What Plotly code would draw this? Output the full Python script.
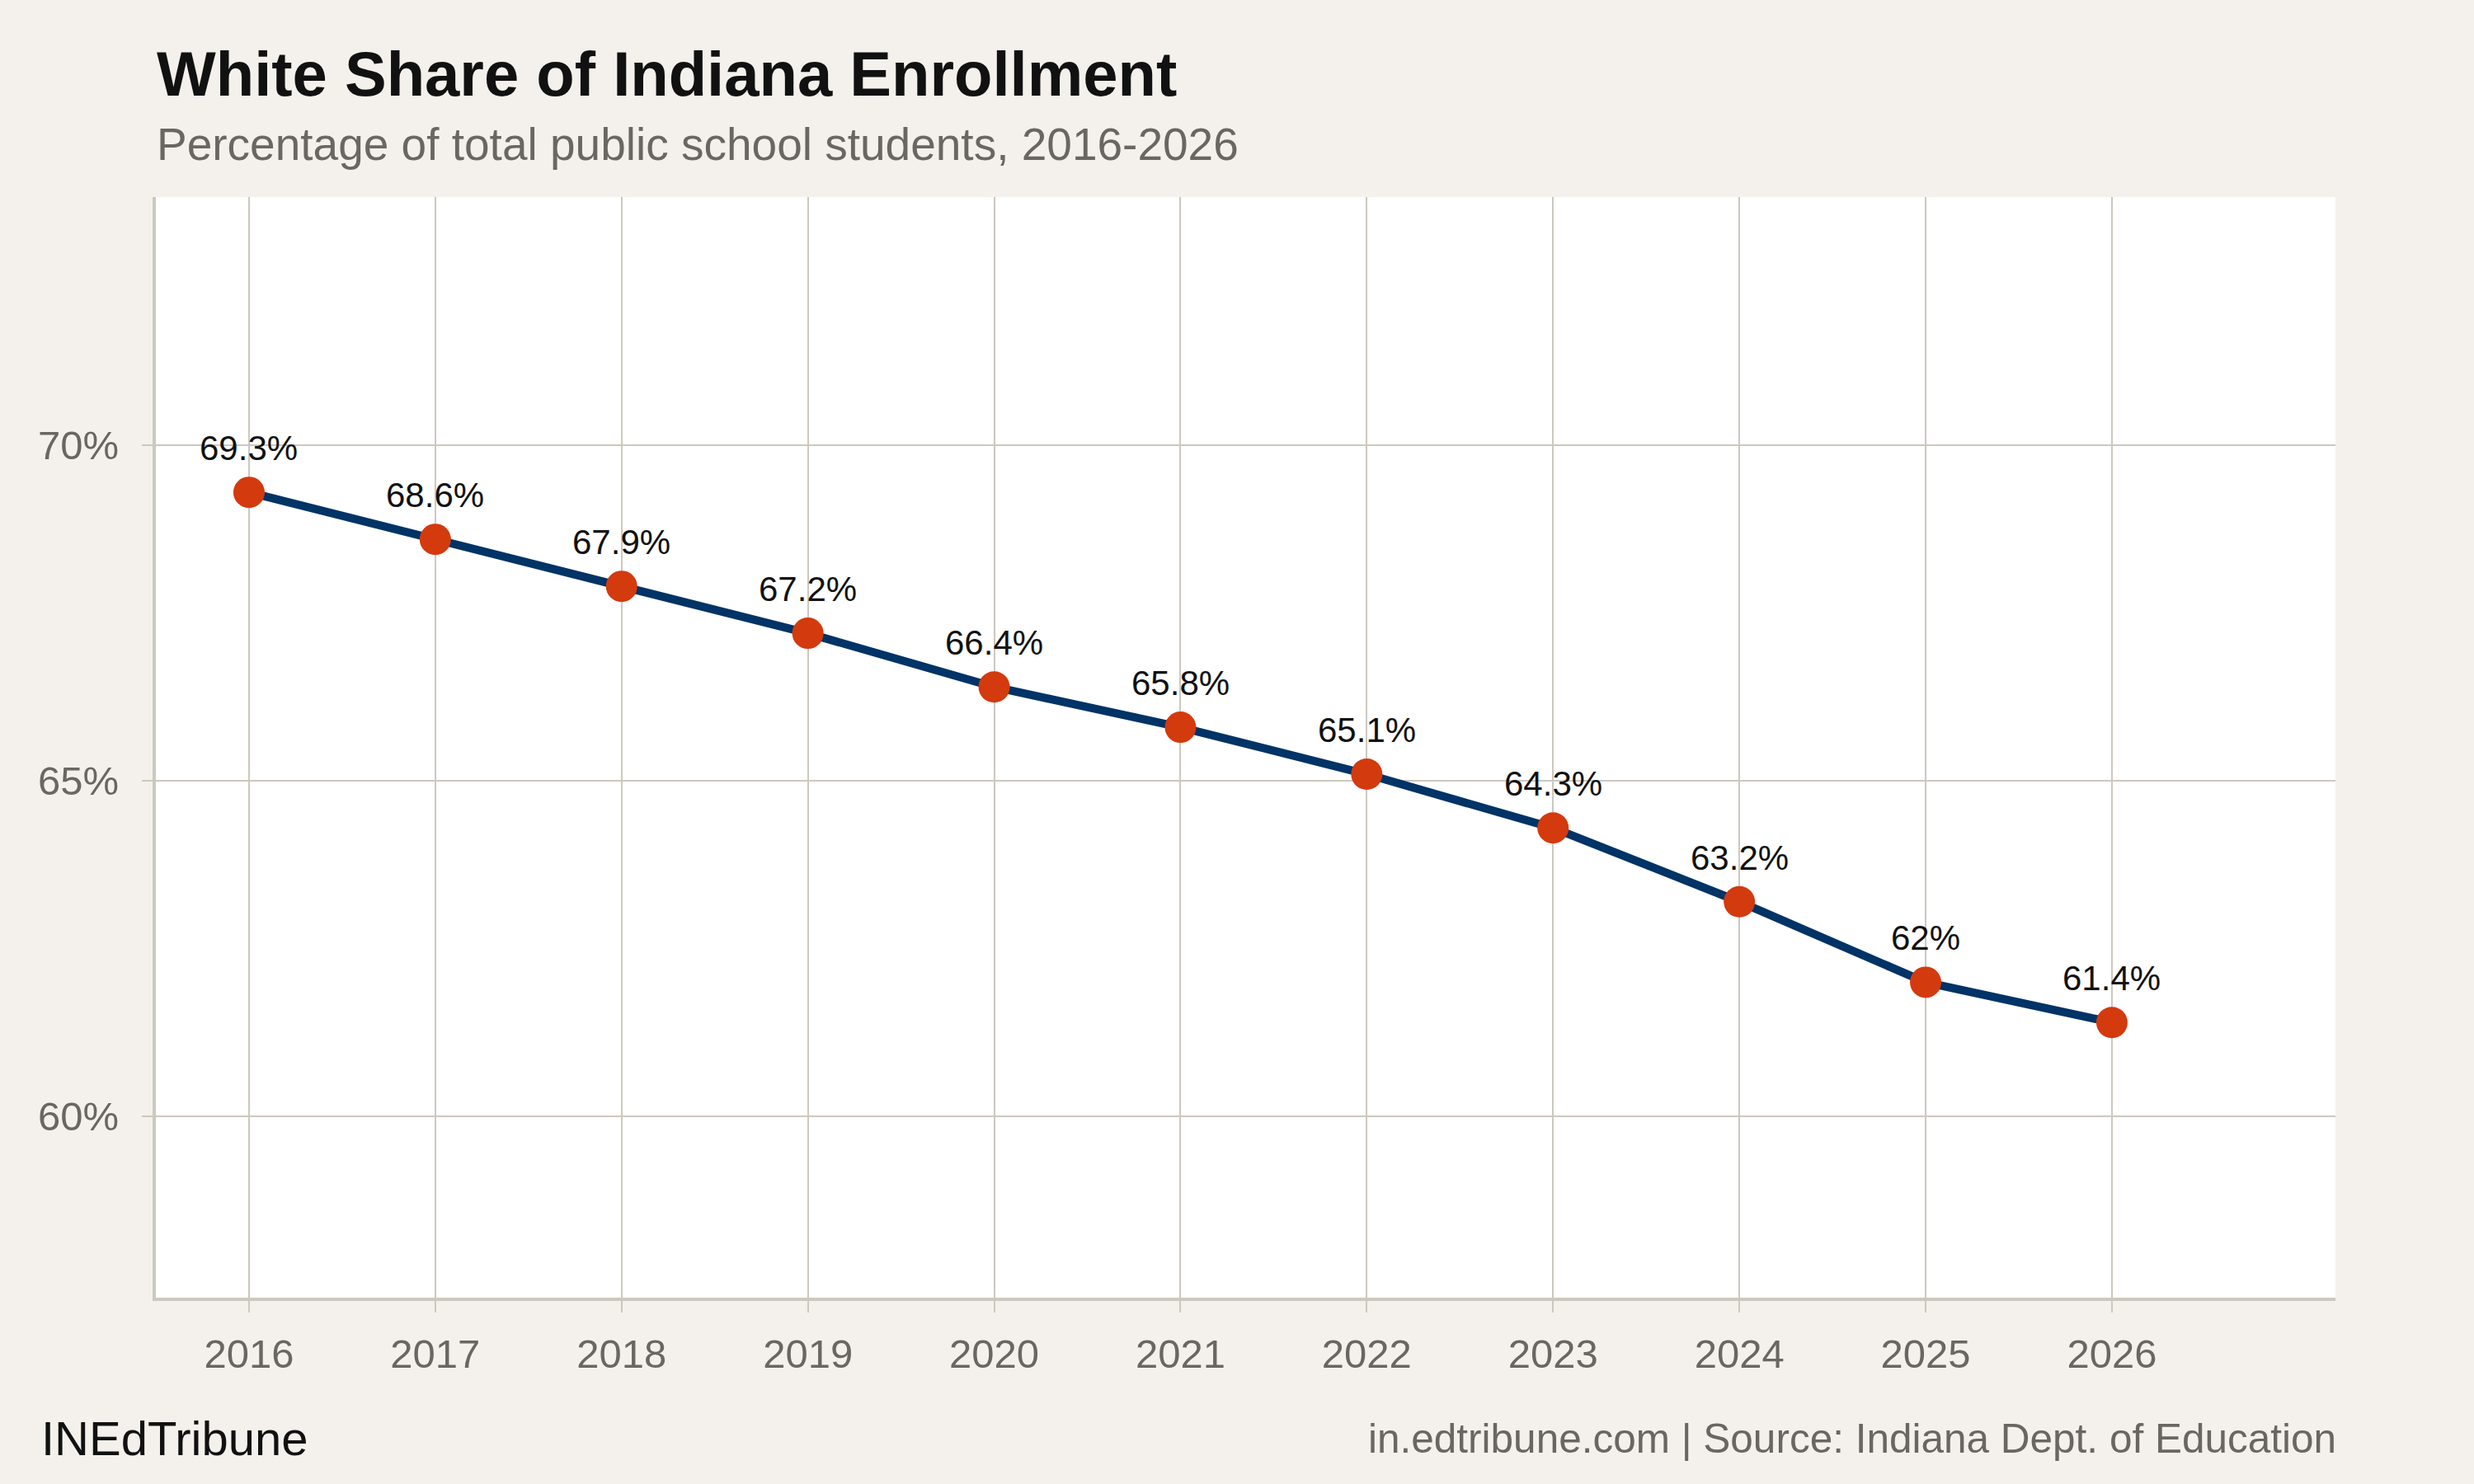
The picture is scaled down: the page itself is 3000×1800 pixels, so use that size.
import plotly.graph_objects as go

years = [2016, 2017, 2018, 2019, 2020, 2021, 2022, 2023, 2024, 2025, 2026]
white_share = [69.3, 68.6, 67.9, 67.2, 66.4, 65.8, 65.1, 64.3, 63.2, 62.0, 61.4]
y_ticks = [60, 65, 70]
y_tick_labels = ["60%", "65%", "70%"]

title = "White Share of Indiana Enrollment"
subtitle = "Percentage of total public school students, 2016-2026"
brand = "INEdTribune"
source = "in.edtribune.com | Source: Indiana Dept. of Education"

FONT = "Liberation Sans, Arial, Helvetica, sans-serif"
GRID = "#cdc8bf"
MUTED = "#6b6661"

labels = [f"{v:g}%" for v in white_share]

fig = go.Figure()
fig.add_trace(go.Scatter(
    x=years, y=white_share,
    mode="lines+markers",
    line=dict(color="#003366", width=10),
    marker=dict(color="#d33a0e", size=38),
    hoverinfo="skip",
    cliponaxis=False,
))

# value labels above each point
for x, y, t in zip(years, white_share, labels):
    fig.add_annotation(x=x, y=y, text=t, showarrow=False,
                       xanchor="center", yanchor="bottom", yshift=28,
                       font=dict(family=FONT, size=42, color="#111111"))

fig.update_layout(
    width=3000, height=1800,
    margin=dict(l=189, r=168, t=239, b=226),
    paper_bgcolor="#f4f1ec",
    plot_bgcolor="#ffffff",
    showlegend=False,
    font=dict(family=FONT, color=MUTED),
)

fig.update_xaxes(
    range=[2015.5, 2027.2],
    tickmode="array", tickvals=years, ticktext=[str(y) for y in years],
    showgrid=True, gridcolor=GRID, gridwidth=2,
    showline=True, linecolor=GRID, linewidth=4,
    ticks="outside", ticklen=14, tickwidth=2, tickcolor=GRID,
    tickfont=dict(family=FONT, size=49, color=MUTED),
    ticklabelstandoff=8,
    zeroline=False,
)
fig.update_yaxes(
    range=[57.3, 73.7],
    tickmode="array", tickvals=y_ticks, ticktext=y_tick_labels,
    showgrid=True, gridcolor=GRID, gridwidth=2,
    showline=True, linecolor=GRID, linewidth=4,
    ticks="outside", ticklen=13, tickwidth=2, tickcolor=GRID,
    tickfont=dict(family=FONT, size=49, color=MUTED),
    ticklabelstandoff=18,
    zeroline=False,
)

fig.add_annotation(text=f"<b>{title}</b>", xref="paper", yref="paper",
                   x=-0.0003, y=1.112, xanchor="left", yanchor="middle",
                   showarrow=False, font=dict(family=FONT, size=76, color="#111111"))
fig.add_annotation(text=subtitle, xref="paper", yref="paper",
                   x=-0.0003, y=1.048, xanchor="left", yanchor="middle",
                   showarrow=False, font=dict(family=FONT, size=55, color=MUTED))
fig.add_annotation(text=brand, xref="paper", yref="paper",
                   x=-0.0535, y=-0.128, xanchor="left", yanchor="middle",
                   showarrow=False, font=dict(family=FONT, size=58, color="#111111"))
fig.add_annotation(text=source, xref="paper", yref="paper",
                   x=1.001, y=-0.128, xanchor="right", yanchor="middle",
                   showarrow=False, font=dict(family=FONT, size=49.5, color=MUTED))

fig.write_html("out.html", config={"displayModeBar": False},
               post_script="document.body.style.margin='0';")
